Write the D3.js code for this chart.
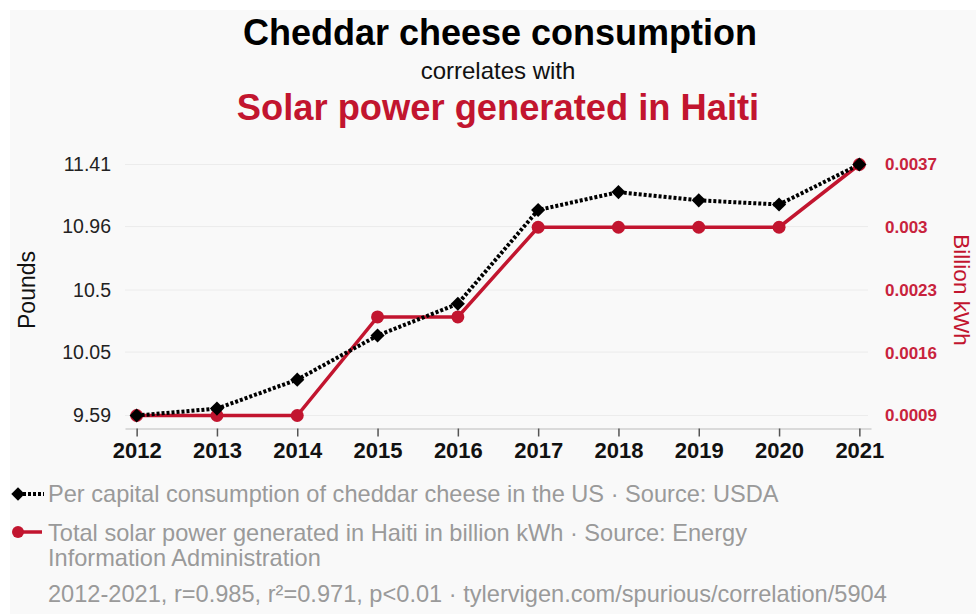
<!DOCTYPE html>
<html>
<head>
<meta charset="utf-8">
<script src="https://cdn.jsdelivr.net/npm/d3@7"></script>
<style>
  body { margin: 0; background: #fff; }
  svg { display: block; font-family: "Liberation Sans", Arial, sans-serif; }
</style>
</head>
<body>
<div id="chart"></div>
<script>
const years = [2012, 2013, 2014, 2015, 2016, 2017, 2018, 2019, 2020, 2021]
const cheese = [9.59, 9.64, 9.85, 10.17, 10.40, 11.08, 11.21, 11.15, 11.12, 11.41]
const solar = [0.0009, 0.0009, 0.0009, 0.002, 0.002, 0.003, 0.003, 0.003, 0.003, 0.0037]
const leftTicks = [9.59, 10.05, 10.5, 10.96, 11.41]
const rightTicks = [0.0009, 0.0016, 0.0023, 0.003, 0.0037]

const w = 976
const h = 614
const red = '#c2152f'

const svg = d3.select('#chart').append('svg')
              .attr('width', w)
              .attr('height', h)

svg.append('rect')
   .attr('x', 10).attr('y', 10)
   .attr('width', w - 10).attr('height', h - 10)
   .attr('fill', '#f9f9f9')

// titles
svg.append('text').attr('x', 500).attr('y', 45)
   .attr('text-anchor', 'middle').attr('font-size', 36).attr('font-weight', 'bold')
   .attr('fill', '#000').text('Cheddar cheese consumption')
svg.append('text').attr('x', 498).attr('y', 79)
   .attr('text-anchor', 'middle').attr('font-size', 24)
   .attr('fill', '#111').text('correlates with')
svg.append('text').attr('x', 498).attr('y', 120)
   .attr('text-anchor', 'middle').attr('font-size', 36.3).attr('font-weight', 'bold')
   .attr('fill', red).text('Solar power generated in Haiti')

const xScale = d3.scalePoint()
                 .domain(years)
                 .range([125, 871])
                 .padding(0.145)

const yLeft = d3.scaleLinear()
                .domain([9.59, 11.41])
                .range([415.5, 164.5])

const yRight = d3.scaleLinear()
                 .domain([0.0009, 0.0037])
                 .range([415.5, 164.5])

// gridlines
svg.append('g')
   .selectAll('line')
   .data(leftTicks)
   .enter()
   .append('line')
   .attr('x1', 125).attr('x2', 868)
   .attr('y1', d => yLeft(d)).attr('y2', d => yLeft(d))
   .attr('stroke', '#ececec').attr('stroke-width', 1)

// x axis
const xA = d3.axisBottom(xScale).tickSize(8).tickSizeOuter(0).tickPadding(6)
const gx = svg.append('g')
   .attr('transform', 'translate(0,428.5)')
   .call(xA)
gx.select('.domain').attr('stroke', '#cfcfcf').attr('stroke-width', 1.5)
gx.selectAll('.tick line').attr('stroke', '#555').attr('stroke-width', 1.5)
gx.selectAll('.tick text')
  .attr('font-size', 22).attr('font-weight', 'bold').attr('fill', '#111')
  .attr('font-family', '"Liberation Sans", Arial, sans-serif')

// left axis
const yA = d3.axisLeft(yLeft).tickValues(leftTicks).tickSize(0).tickPadding(14).tickFormat(d => d)
const gl = svg.append('g').attr('transform', 'translate(125,0)').call(yA)
gl.select('.domain').remove()
gl.selectAll('.tick text')
  .attr('font-size', 19.5).attr('fill', '#222')
  .attr('font-family', '"Liberation Sans", Arial, sans-serif')

// right axis
const yB = d3.axisRight(yRight).tickValues(rightTicks).tickSize(0).tickPadding(14).tickFormat(d => d)
const gr = svg.append('g').attr('transform', 'translate(871,0)').call(yB)
gr.select('.domain').remove()
gr.selectAll('.tick text')
  .attr('font-size', 17).attr('font-weight', 'bold').attr('fill', '#c8233d')
  .attr('font-family', '"Liberation Sans", Arial, sans-serif')

svg.append('text')
   .attr('transform', 'translate(35,290) rotate(-90)')
   .attr('text-anchor', 'middle').attr('font-size', 23).attr('fill', '#111')
   .text('Pounds')
svg.append('text')
   .attr('transform', 'translate(954,290) rotate(90)')
   .attr('text-anchor', 'middle').attr('font-size', 22.5).attr('fill', red)
   .text('Billion kWh')

// red series
const redLine = d3.line().x((d, i) => xScale(years[i])).y(d => yRight(d))
svg.append('path')
   .datum(solar)
   .attr('d', redLine)
   .attr('fill', 'none').attr('stroke', red).attr('stroke-width', 3.5)
svg.append('g')
   .selectAll('circle')
   .data(solar)
   .enter()
   .append('circle')
   .attr('cx', (d, i) => xScale(years[i]))
   .attr('cy', d => yRight(d))
   .attr('r', 6.5)
   .attr('fill', red)

// black series
const blackLine = d3.line().x((d, i) => xScale(years[i])).y(d => yLeft(d))
svg.append('path')
   .datum(cheese)
   .attr('d', blackLine)
   .attr('fill', 'none').attr('stroke', '#000').attr('stroke-width', 4)
   .attr('stroke-dasharray', '3,2')
const diamond = d3.symbol(d3.symbolSquare, 100)
svg.append('g')
   .selectAll('path')
   .data(cheese)
   .enter()
   .append('path')
   .attr('d', diamond)
   .attr('transform', (d, i) => 'translate(' + xScale(years[i]) + ',' + yLeft(d) + ') rotate(45)')
   .attr('fill', '#000')

// legend
const legend = svg.append('g')
legend.append('line').attr('x1', 18).attr('x2', 44).attr('y1', 494).attr('y2', 494)
      .attr('stroke', '#000').attr('stroke-width', 4).attr('stroke-dasharray', '3,2')
legend.append('path').attr('d', d3.symbol(d3.symbolSquare, 90))
      .attr('transform', 'translate(18,494) rotate(45)').attr('fill', '#000')
legend.append('line').attr('x1', 18).attr('x2', 42).attr('y1', 532).attr('y2', 532)
      .attr('stroke', red).attr('stroke-width', 3.5)
legend.append('circle').attr('cx', 18).attr('cy', 532).attr('r', 6).attr('fill', red)

const legendText = [
  ['Per capital consumption of cheddar cheese in the US · Source: USDA', 502],
  ['Total solar power generated in Haiti in billion kWh · Source: Energy', 541],
  ['Information Administration', 566],
  ['2012-2021, r=0.985, r²=0.971, p<0.01 · tylervigen.com/spurious/correlation/5904', 602]
]
legend.selectAll('text')
      .data(legendText)
      .enter()
      .append('text')
      .attr('x', 48)
      .attr('y', d => d[1])
      .attr('font-size', 23.6)
      .attr('fill', '#9a9a9a')
      .text(d => d[0])
</script>
</body>
</html>
